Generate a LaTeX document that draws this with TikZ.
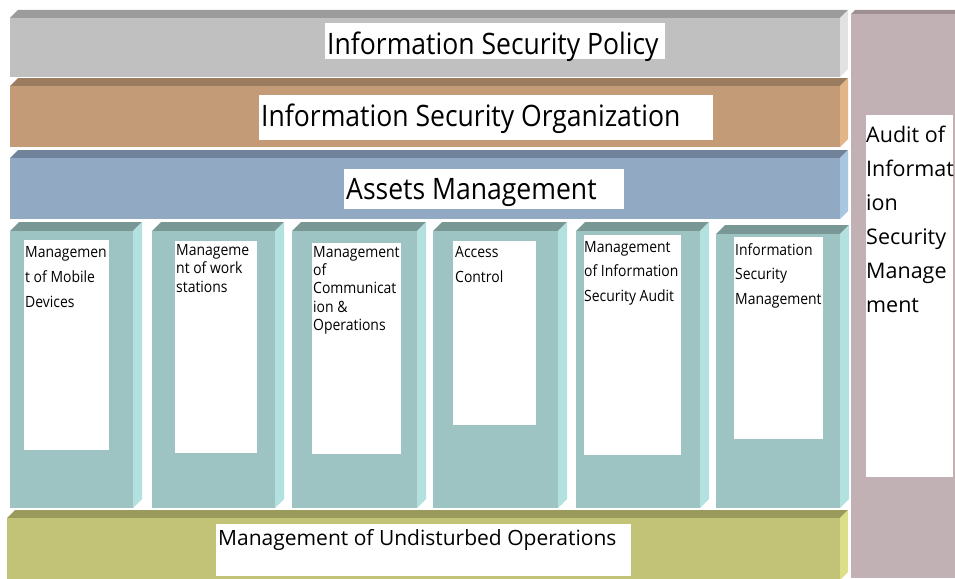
\documentclass[tikz,border=0pt]{standalone}
\usepackage{fontspec}
\setmainfont{Open Sans}
\newfontfamily\narrowsans[FakeStretch=0.9]{Open Sans}
\usetikzlibrary{positioning}

\definecolor{policy}{HTML}{C0C0C0}
\definecolor{policytop}{HTML}{9C9C9C}
\definecolor{policyside}{HTML}{E2E2E2}
\definecolor{org}{HTML}{C39B77}
\definecolor{orgtop}{HTML}{9B7C5E}
\definecolor{orgside}{HTML}{E2B589}
\definecolor{asset}{HTML}{92A9C4}
\definecolor{assettop}{HTML}{71839A}
\definecolor{assetside}{HTML}{A8C6E0}
\definecolor{pillar}{HTML}{9DC3C3}
\definecolor{pillartop}{HTML}{789795}
\definecolor{pillarside}{HTML}{B3E1E0}
\definecolor{oper}{HTML}{C2C377}
\definecolor{opertop}{HTML}{9A9A5D}
\definecolor{operside}{HTML}{DDDE8A}
\definecolor{audit}{HTML}{C1B1B4}
\definecolor{audittop}{HTML}{9D8F92}

% bevelled slab: x1, y1, x2, y2, colour, depth
\newcommand{\slab}[6]{%
	\fill[#5top] (#1,#2+#6) -- (#1+#6,#2) -- (#3+#6,#2) -- (#3,#2+#6) -- cycle;
	\fill[#5] (#1,#2+#6) rectangle (#3,#4);
	\fill[#5side] (#3,#2+#6) -- (#3+#6,#2) -- (#3+#6,#4-#6) -- (#3,#4) -- cycle;}

\begin{document}
\begin{tikzpicture}[x=1pt, y=-1pt,
	tag/.style={fill=white, inner sep=0pt, anchor=north west},
	title/.style={inner sep=0pt, anchor=north west, font=\narrowsans\fontsize{29.5}{33}\selectfont},
	coltext/.style={inner sep=0pt, anchor=north west, align=left}]
	
	\useasboundingbox (0,0) rectangle (955,578);
	
	% right hand column
	\fill[audit] (851,14) rectangle (955,578);
	\fill[audittop] (851,14) -- (855,10) -- (955,10) -- (955,14) -- cycle;
	\node[tag, minimum width=87, minimum height=362] (auditbox) at (866,115) {};
	\node[coltext, font=\fontsize{21.5}{34}\selectfont] (audit) at (866,126)
		{Audit of\\Informat\\ion\\Security\\Manage\\ment};
	
	% horizontal layers
	\slab{10}{10}{840}{77}{policy}{8}
	\slab{10}{78}{840}{147}{org}{8}
	\slab{10}{150}{840}{219}{asset}{8}
	\slab{7}{510}{840}{580}{oper}{8}
	
	\node[tag, minimum width=340, minimum height=36] (policybox) at (325,23) {};
	\node[title] (policy) at (327,32) {Information Security Policy};
	
	\node[tag, minimum width=454, minimum height=45] (orgbox) at (259,95) {};
	\node[title] (org) at (261,104) {Information Security Organization};
	
	\node[tag, minimum width=280, minimum height=40] (assetbox) at (344,169) {};
	\node[title] (asset) at (346,178) {Assets Management};
	
	\node[tag, minimum width=415, minimum height=52] (operbox) at (216,524) {};
	\node[inner sep=0pt, anchor=north west, font=\fontsize{21}{24}\selectfont] (oper) at (218,529)
		{Management of Undisturbed Operations};
	
	% pillars
	\foreach \xa/\xb/\ya in {10/133/222, 152/275/222, 292/417/222, 433/558/222, 576/700/222, 716/840/225}
		\slab{\xa}{\ya}{\xb}{508}{pillar}{9};
	
	\node[tag, minimum width=85, minimum height=210] (mobilebox) at (24,240) {};
	\node[coltext, font=\narrowsans\fontsize{15.5}{25}\selectfont] (mobile) at (25,246)
		{Managemen\\t of Mobile\\Devices};
	
	\node[tag, minimum width=82, minimum height=212] (workbox) at (175,241) {};
	\node[coltext, font=\narrowsans\fontsize{15.5}{18.5}\selectfont] (work) at (176,244)
		{Manageme\\nt of work\\stations};
	
	\node[tag, minimum width=89, minimum height=211] (commbox) at (312,243) {};
	\node[coltext, font=\narrowsans\fontsize{15.5}{18.3}\selectfont] (comm) at (313,246)
		{Management\\of\\Communicat\\ion \&\\Operations};
	
	\node[tag, minimum width=83, minimum height=184] (accessbox) at (453,241) {};
	\node[coltext, font=\narrowsans\fontsize{15.5}{25}\selectfont] (access) at (455,246)
		{Access\\Control};
	
	\node[tag, minimum width=97, minimum height=220] (isauditbox) at (584,235) {};
	\node[coltext, font=\narrowsans\fontsize{15.5}{24.5}\selectfont] (isaudit) at (584,241)
		{Management\\of Information\\Security Audit};
	
	\node[tag, minimum width=89, minimum height=202] (ismbox) at (734,237) {};
	\node[coltext, font=\narrowsans\fontsize{15.5}{24.5}\selectfont] (ism) at (735,243)
		{Information\\Security\\Management};
	
\end{tikzpicture}
\end{document}
